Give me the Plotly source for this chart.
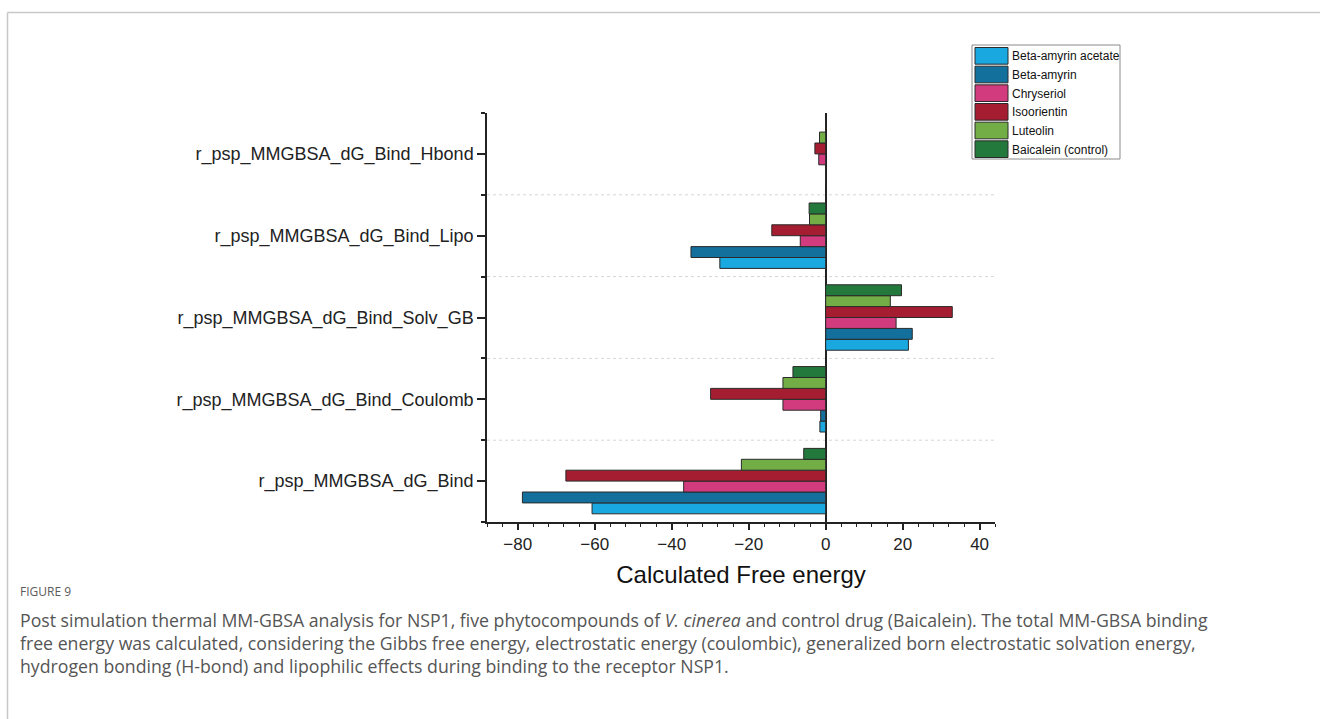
import plotly.graph_objects as go

# Energy terms (bottom to top on the y axis)
categories = [
    "r_psp_MMGBSA_dG_Bind",
    "r_psp_MMGBSA_dG_Bind_Coulomb",
    "r_psp_MMGBSA_dG_Bind_Solv_GB",
    "r_psp_MMGBSA_dG_Bind_Lipo",
    "r_psp_MMGBSA_dG_Bind_Hbond",
]

compounds = [
    "Beta-amyrin acetate",
    "Beta-amyrin",
    "Chryseriol",
    "Isoorientin",
    "Luteolin",
    "Baicalein (control)",
]

colors = ["#1AA8E0", "#136F9B", "#D23C7E", "#A51D30", "#73AD46", "#22793B"]

# Calculated free energy per term (kcal/mol), same order as categories
beta_amyrin_acetate = [-60.7, -1.5, 21.5, -27.5, 0.0]
beta_amyrin = [-78.8, -1.3, 22.5, -35.0, 0.0]
chryseriol = [-36.9, -11.1, 18.3, -6.6, -1.8]
isoorientin = [-67.5, -29.9, 32.9, -14.0, -2.8]
luteolin = [-21.9, -11.1, 16.8, -4.2, -1.6]
baicalein = [-5.7, -8.5, 19.7, -4.3, 0.0]

series = [beta_amyrin_acetate, beta_amyrin, chryseriol, isoorientin, luteolin, baicalein]

x_ticks = [-80, -60, -40, -20, 0, 20, 40]

W, H = 1320, 719
L, R, T, B = 487, 995, 113, 522  # plot area in pixels


def px(x):
    return (x - L) / (R - L)


def py(y):
    return (B - y) / (B - T)


ypos = list(range(len(categories)))

fig = go.Figure()
for name, vals, col in zip(compounds, series, colors):
    fig.add_trace(go.Bar(
        x=vals, y=ypos, orientation="h", name=name,
        marker=dict(color=col, line=dict(color="#2a2a2a", width=1)),
        showlegend=False,
    ))

shapes = []
# dotted separators between energy terms
for k in range(len(categories) - 1):
    shapes.append(dict(type="line", xref="x domain", yref="y",
                       x0=0, x1=1, y0=k + 0.5, y1=k + 0.5,
                       line=dict(color="#d6d6d6", width=1, dash="dot"),
                       layer="below"))

# legend box
lx0, lx1, ly0, ly1 = 972, 1120, 45, 159
shapes.append(dict(type="rect", xref="paper", yref="paper",
                   x0=px(lx0), x1=px(lx1), y0=py(ly1), y1=py(ly0),
                   line=dict(color="#8a8a8a", width=1), fillcolor="white"))
annotations = []
row_h = (ly1 - ly0 - 2) / len(compounds)
for i, (name, col) in enumerate(zip(compounds, colors)):
    top = ly0 + 2 + i * row_h
    shapes.append(dict(type="rect", xref="paper", yref="paper",
                       x0=px(975), x1=px(1008),
                       y0=py(top + row_h - 1.5), y1=py(top + 0.5),
                       line=dict(color="#2a2a2a", width=1), fillcolor=col))
    annotations.append(dict(xref="paper", yref="paper", x=px(1010),
                            y=py(top + row_h / 2), text=name, showarrow=False,
                            xanchor="left", yanchor="middle",
                            font=dict(family="Liberation Sans, Arial", size=12, color="#111")))

# card frame
shapes.append(dict(type="line", xref="paper", yref="paper",
                   x0=px(7.5), x1=px(W + 5), y0=py(12.5), y1=py(12.5),
                   line=dict(color="#c8c8c8", width=1.5)))
shapes.append(dict(type="line", xref="paper", yref="paper",
                   x0=px(7.5), x1=px(7.5), y0=py(12.5), y1=py(H + 5),
                   line=dict(color="#c8c8c8", width=1.5)))

# caption
annotations.append(dict(xref="paper", yref="paper", x=px(18), y=py(591),
                        text="FIGURE 9", showarrow=False, xanchor="left", yanchor="middle",
                        font=dict(family="Open Sans", size=12, color="#5a5a5a")))
caption_lines = [
    "Post simulation thermal MM-GBSA analysis for NSP1, five phytocompounds of <i>V. cinerea</i> "
    "and control drug (Baicalein). The total MM-GBSA binding",
    "free energy was calculated, considering the Gibbs free energy, electrostatic energy (coulombic), "
    "generalized born electrostatic solvation energy,",
    "hydrogen bonding (H-bond) and lipophilic effects during binding to the receptor NSP1.",
]
annotations.append(dict(xref="paper", yref="paper", x=px(18), y=py(606),
                        text="<br>".join(caption_lines), showarrow=False,
                        xanchor="left", yanchor="top", align="left",
                        font=dict(family="Open Sans", size=17.7, color="#555555")))

fig.update_layout(
    width=W, height=H,
    margin=dict(l=L, r=W - R, t=T, b=H - B, pad=0),
    paper_bgcolor="white", plot_bgcolor="white",
    barmode="group", bargap=0.2, bargroupgap=0,
    showlegend=False,
    font=dict(family="Liberation Sans, Arial", color="#222"),
    shapes=shapes, annotations=annotations,
)

fig.update_xaxes(
    range=[-88, 44], tickvals=x_ticks, ticks="outside", ticklen=6, tickwidth=1.5,
    tickcolor="#222", showline=True, linecolor="#222", linewidth=1.5,
    showgrid=False, zeroline=True, zerolinecolor="#222", zerolinewidth=1.5,
    tickfont=dict(size=17, color="#222"), automargin=False,
    minor=dict(dtick=4, tick0=0, ticks="outside", ticklen=3.5, tickwidth=1.2, tickcolor="#222", showgrid=False),
    title=dict(text="Calculated Free energy", font=dict(size=24, color="#111"), standoff=13),
)

fig.update_yaxes(
    range=[-0.5, 4.5], tickvals=ypos, ticktext=categories, ticks="outside",
    ticklen=8, tickwidth=1.5, tickcolor="#222", showline=True, linecolor="#222",
    linewidth=1.5, showgrid=False, zeroline=False, automargin=False,
    tickfont=dict(size=18, color="#222"),
    minor=dict(tickvals=[k - 0.5 for k in range(len(categories) + 1)], ticks="outside",
               ticklen=4, tickwidth=1.5, tickcolor="#222", showgrid=False),
)

fig.write_html("out.html")
